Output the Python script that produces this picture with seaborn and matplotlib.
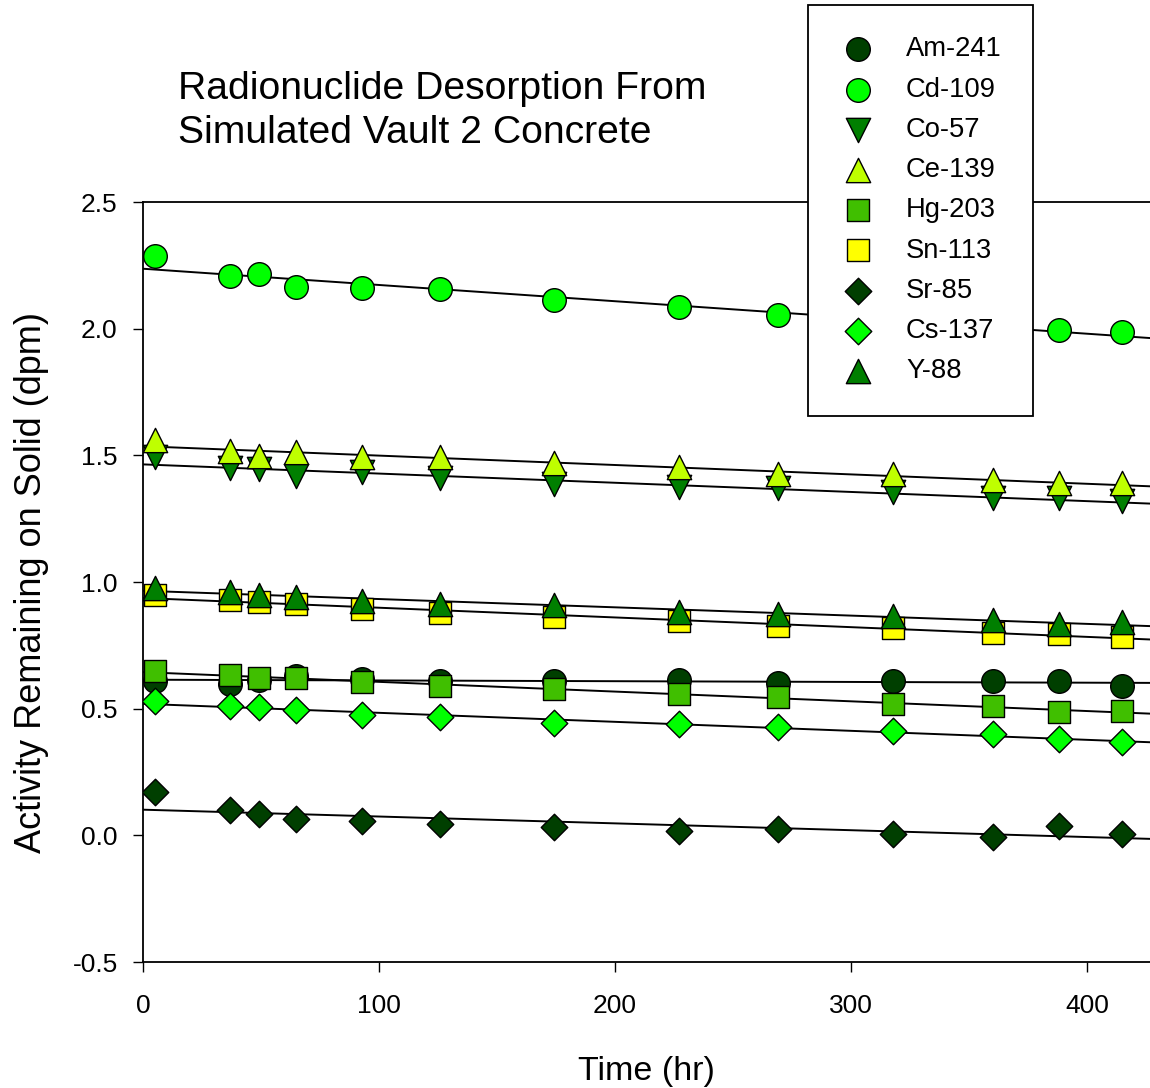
import matplotlib
matplotlib.use("Agg")
import matplotlib.pyplot as plt
import pandas as pd
import seaborn as sns

# sampling times (hr)
time_hr = [5, 37, 49, 65, 93, 126, 174, 227, 269, 318, 360, 388, 415]

# activity remaining on solid (dpm)
am241 = [0.609, 0.596, 0.615, 0.630, 0.617, 0.608, 0.610, 0.612, 0.601, 0.608, 0.609, 0.609, 0.589]
cd109 = [2.286, 2.207, 2.215, 2.163, 2.159, 2.156, 2.112, 2.086, 2.053, 2.030, 2.010, 1.994, 1.987]
co57 = [1.494, 1.451, 1.445, 1.419, 1.435, 1.411, 1.388, 1.374, 1.370, 1.354, 1.330, 1.330, 1.320]
ce139 = [1.561, 1.518, 1.498, 1.514, 1.494, 1.494, 1.469, 1.453, 1.425, 1.425, 1.402, 1.390, 1.390]
hg203 = [0.649, 0.634, 0.621, 0.620, 0.606, 0.589, 0.576, 0.557, 0.546, 0.518, 0.512, 0.488, 0.490]
sn113 = [0.947, 0.928, 0.920, 0.914, 0.894, 0.878, 0.863, 0.846, 0.827, 0.819, 0.798, 0.795, 0.782]
sr85 = [0.171, 0.099, 0.083, 0.064, 0.058, 0.043, 0.033, 0.016, 0.026, 0.007, -0.007, 0.038, 0.004]
cs137 = [0.531, 0.510, 0.506, 0.493, 0.474, 0.467, 0.444, 0.440, 0.428, 0.411, 0.399, 0.381, 0.368]
y88 = [0.978, 0.961, 0.950, 0.942, 0.924, 0.914, 0.910, 0.883, 0.873, 0.866, 0.850, 0.834, 0.841]

SERIES = [
    ("Am-241", am241, "o", "#003f00", 17.0),
    ("Cd-109", cd109, "o", "#00ff00", 17.0),
    ("Co-57", co57, "v", "#007f00", 17.5),
    ("Ce-139", ce139, "^", "#bfff00", 17.5),
    ("Hg-203", hg203, "s", "#40bf00", 16.5),
    ("Sn-113", sn113, "s", "#ffff00", 16.5),
    ("Sr-85", sr85, "D", "#003f00", 13.5),
    ("Cs-137", cs137, "D", "#00ff00", 13.5),
    ("Y-88", y88, "^", "#007f00", 17.5),
]

sns.set_style("ticks")
plt.rcParams["font.family"] = ["Liberation Sans", "DejaVu Sans"]
plt.rcParams["text.color"] = "black"
plt.rcParams["axes.labelcolor"] = "black"
plt.rcParams["xtick.color"] = "black"
plt.rcParams["ytick.color"] = "black"

fig = plt.figure(figsize=(11.5, 10.88), dpi=100)
ax = fig.add_axes([0.1243, 0.1158, 0.8757, 0.6985])
ax.set_xlim(0, 426.7)
ax.set_ylim(-0.5, 2.5)

handles = []
labels = []
for name, values, marker, color, size in SERIES:
    df = pd.DataFrame({"time": time_hr, "activity": values})
    sns.regplot(
        data=df,
        x="time",
        y="activity",
        ax=ax,
        ci=None,
        truncate=False,
        marker=marker,
        color=color,
        scatter_kws={
            "s": size ** 2,
            "edgecolors": "black",
            "linewidths": 1.0,
            "alpha": 1,
            "zorder": 3,
        },
        line_kws={"color": "black", "linewidth": 1.4, "zorder": 2},
    )
    handles.append(ax.collections[-1])
    labels.append(name)

ax.set_xticks([0, 100, 200, 300, 400])
ax.set_yticks([-0.5, 0.0, 0.5, 1.0, 1.5, 2.0, 2.5])
ax.set_yticklabels([f"{v:.1f}" for v in [-0.5, 0.0, 0.5, 1.0, 1.5, 2.0, 2.5]])
ax.tick_params(axis="both", direction="out", length=7.2, width=1.0, labelsize=19, colors="black")
ax.tick_params(axis="x", pad=16)
ax.tick_params(axis="y", pad=11)
for side in ["left", "bottom", "top"]:
    ax.spines[side].set_visible(True)
    ax.spines[side].set_linewidth(1.3)
    ax.spines[side].set_color("black")
ax.spines["right"].set_visible(False)

ax.set_xlabel("Time (hr)", fontsize=24.5, labelpad=27)
ax.set_ylabel("Activity Remaining on Solid (dpm)", fontsize=26, labelpad=17)

fig.text(
    0.1548,
    1 - 111 / 1088,
    "Radionuclide Desorption From\nSimulated Vault 2 Concrete",
    fontsize=28.2,
    ha="left",
    va="center",
    linespacing=1.31,
)

leg = fig.legend(
    handles,
    labels,
    loc="upper left",
    bbox_to_anchor=(808 / 1150, 1 - 5 / 1088),
    borderaxespad=0,
    fontsize=19.7,
    frameon=True,
    fancybox=False,
    framealpha=1,
    edgecolor="black",
    borderpad=1.15,
    handlelength=1.35,
    handletextpad=1.08,
    labelspacing=0.52,
    scatterpoints=1,
)
leg.get_frame().set_linewidth(1.3)

fig.savefig("out.png", dpi=100)
